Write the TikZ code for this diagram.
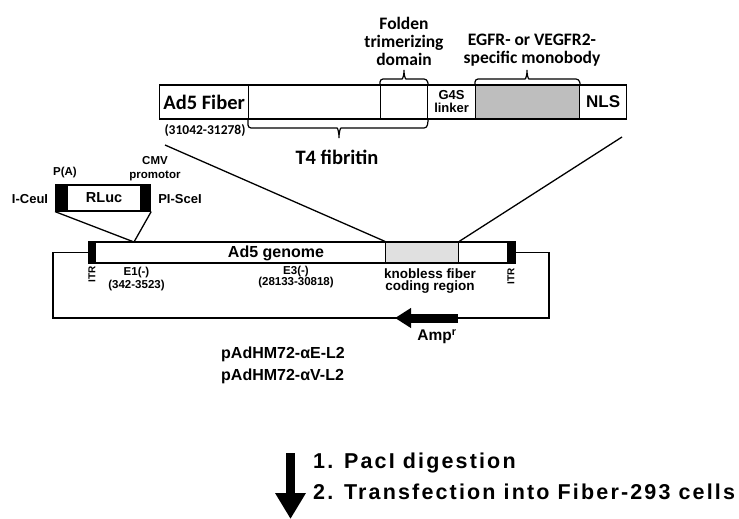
\documentclass[tikz,border=0pt]{standalone}
\usepackage{fontspec}
\setmainfont{Liberation Sans}
\newfontfamily\calfont{Carlito}
\newfontfamily\stepfont[LetterSpace=10]{Liberation Sans}
\usetikzlibrary{arrows.meta,positioning,calc}
\definecolor{monoG}{RGB}{190,190,190}
\definecolor{knobG}{RGB}{224,224,224}
\tikzset{
  seg/.style={rectangle, draw=black, line width=1.2pt, minimum height=#1, inner sep=0pt,
              anchor=west, align=center},
  calf/.style n args={2}{inner sep=0pt, align=center, font=\calfont\bfseries\fontsize{#1}{#2}\selectfont},
  arf/.style n args={2}{inner sep=0pt, align=center, font=\bfseries\fontsize{#1}{#2}\selectfont},
  stepf/.style={inner sep=0pt, anchor=west, font=\stepfont\bfseries\fontsize{21.5}{24}\selectfont},
  brk/.style={line width=1.2pt, rounded corners=3pt},
  zoomln/.style={line width=1.3pt},
  bb/.style={line width=1.2pt},
  fatarr/.style={line width=#1, draw=black},
}

\begin{document}
\begin{tikzpicture}[x=1pt, y=-1pt]
\useasboundingbox (0,0) rectangle (739,519);
% fiber construct
\node[seg=34pt, minimum width=89pt, calf={20.5}{20}] (fiber) at (159,102) {Ad5 Fiber};
\node[seg=34pt, minimum width=132pt] (fibritin) at (248,102) {};
\node[seg=34pt, minimum width=47pt] (folden) at (380,102) {};
\node[seg=34pt, minimum width=48pt, arf={13}{13}] (linker) at (427,102) {G4S\\linker};
\node[seg=34pt, minimum width=104pt, fill=monoG] (mono) at (475,102) {};
\node[seg=34pt, minimum width=47pt, arf={17}{17}] (nls) at (579,102) {NLS};
\draw[brk] (folden.north west) -- (380,79) -- (399,79) .. controls (403,79) and (404,74) .. (404,68)
  .. controls (404,74) and (405,79) .. (409,79) -- (427,79) -- (folden.north east);
\draw[brk] (mono.north west) -- (475,79) -- (522,79) .. controls (526,79) and (527,74) .. (527,68)
  .. controls (527,74) and (528,79) .. (532,79) -- (579,79) -- (mono.north east);
\draw[brk] (fibritin.south west) -- (248,128) -- (334,128) .. controls (338,128) and (339,134) .. (339,140)
  .. controls (339,134) and (340,128) .. (344,128) -- (427,128) -- (folden.south east);
\node[calf={17.5}{18}] (foldlab) at (404,41) {Folden\\trimerizing\\domain};
\node[calf={17.5}{17.5}] (monolab) at (532,50) {EGFR- or VEGFR2-\\specific monobody};
\node[calf={13.5}{14}] (fibpos) at (205,131) {(31042-31278)};
\node[calf={20.5}{20}] (t4lab) at (337,157) {T4 fibritin};
% RLuc cassette
\node[seg=26pt, minimum width=12pt, fill=black] (pa) at (55,198) {};
\node[seg=26pt, minimum width=73pt, arf={14.5}{14}] (rluc) at (67,198) {RLuc};
\node[seg=26pt, minimum width=10pt, fill=black] (cmv) at (140,198) {};
\node[arf={11.5}{13}] (palab) at (65,173) {P(A)};
\node[arf={11.5}{14}] (cmvlab) at (155,169) {CMV\\promotor};
\node[arf={13}{13}] (ceu) at (30,199) {I-CeuI};
\node[arf={13}{13}] (sce) at (180,199) {PI-SceI};
% Ad5 genome
\node[seg=21pt, minimum width=7pt, fill=black] (itrL) at (88,252.5) {};
\node[seg=21pt, minimum width=290pt] (genome) at (95,252.5) {};
\node[seg=21pt, minimum width=73pt, fill=knobG] (knob) at (385,252.5) {};
\node[seg=21pt, minimum width=49pt] (gtail) at (458,252.5) {};
\node[seg=21pt, minimum width=8pt, fill=black] (itrR) at (507,252.5) {};
\node[arf={16}{16}] (genlab) at (276,253) {Ad5 genome};
\node[arf={10}{10}, rotate=90] (itrLlab) at (92,274) {ITR};
\node[arf={10}{10}, rotate=90] (itrRlab) at (511,276) {ITR};
\node[arf={11.5}{12.5}] (e1lab) at (136.5,279) {E1(-)\\(342-3523)};
\node[arf={11.5}{11.5}] (e3lab) at (296,277) {E3(-)\\(28133-30818)};
\node[arf={13.5}{12.5}] (knoblab) at (430,281) {knobless fiber\\coding region};
% plasmid backbone
\draw[bb] (itrL.west) -- (53,252.5) -- (53,318) -- (549,318) -- (549,252.5) -- (itrR.east);
\coordinate (ampS) at (458,318);
\coordinate (ampE) at (395,318);
\draw[fatarr=9pt, -{Triangle[length=16pt, width=19pt]}] (ampS) -- (ampE);
\node[arf={15.5}{15}] (amplab) at (437,337) {Amp\textsuperscript{r}};
% zoom lines
\coordinate (insert) at (134,242);
\draw[zoomln] (pa.south west) -- (insert);
\draw[zoomln] (cmv.south east) -- (insert);
\coordinate (zl) at (165,145);
\coordinate (zr) at (622,137);
\draw[zoomln] (zl) -- (knob.north west);
\draw[zoomln] (zr) -- (knob.north east);
% vectors and steps
\node[arf={16}{22}, align=left, anchor=west] (vec) at (221,365) {pAdHM72-αE-L2\\pAdHM72-αV-L2};
\coordinate (dnS) at (290.5,453);
\coordinate (dnE) at (290.5,519);
\draw[fatarr=9pt, -{Triangle[length=26pt, width=29pt]}] (dnS) -- (dnE);
\node[stepf] (st1) at (313,463) {1. PacI digestion};
\node[stepf] (st2) at (313,492) {2. Transfection into Fiber-293 cells};
\end{tikzpicture}
\end{document}
